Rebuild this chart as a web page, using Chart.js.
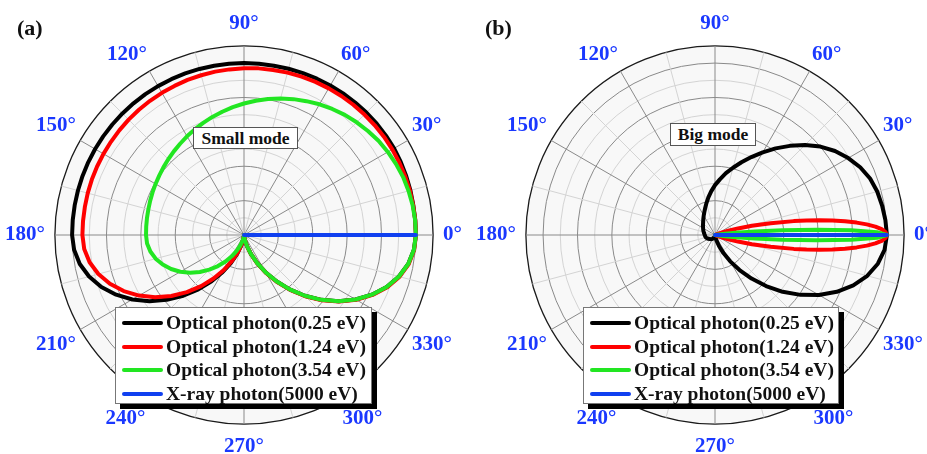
<!DOCTYPE html>
<html>
<head>
<meta charset="utf-8">
<script src="https://cdn.jsdelivr.net/npm/chart.js@4.4.1/dist/chart.umd.min.js"></script>
<style>
html,body{margin:0;padding:0;background:#fff;}
body{width:927px;height:454px;position:relative;overflow:hidden;font-family:'Liberation Serif','Times New Roman',Times,serif;}
canvas.pc{position:absolute;top:0;}
.tag{position:absolute;font-weight:bold;font-size:22px;line-height:22px;color:#111;}
.mode{position:absolute;box-sizing:border-box;border:1px solid #555;background:#fff;font-weight:bold;font-size:17.5px;text-align:center;color:#111;}
.leg{position:absolute;box-sizing:border-box;border:1px solid #777;background:#fff;box-shadow:5px 5px 0 #000;}
.row{position:absolute;left:0;height:24px;width:100%;}
.row .ln{position:absolute;left:6px;top:10px;width:41px;height:4px;border-radius:2px;}
.row .tx{position:absolute;left:50px;top:0;line-height:24px;font-weight:bold;font-size:19.5px;color:#111;white-space:nowrap;}
</style>
</head>
<body>
<canvas id="chartA" class="pc" width="478" height="470" style="left:-5px"></canvas>
<canvas id="chartB" class="pc" width="478" height="470" style="left:466px"></canvas>
<div class="tag" style="left:17px;top:17px">(a)</div>
<div class="tag" style="left:485px;top:17px">(b)</div>
<div class="mode" style="left:193px;top:127px;width:105px;height:22px;line-height:20px">Small mode</div>
<div class="mode" style="left:670px;top:123px;width:86px;height:23px;line-height:21px">Big mode</div>
<div class="leg" id="legA" style="left:115px;top:307px;width:257px;height:97px"></div>
<div class="leg" id="legB" style="left:583px;top:307px;width:256px;height:97px"></div>
<script>
// ---------- tick labels / legend ----------
const angleTicks = [0,30,60,90,120,150,180,210,240,270,300,330];
const seriesNames = ['Optical photon(0.25 eV)','Optical photon(1.24 eV)','Optical photon(3.54 eV)','X-ray photon(5000 eV)'];
const seriesColors = ['#000000','#ff0000','#22e622','#1040f0'];

// ---------- panel (a): Small mode ----------
const thetaA = [0,5,10,15,20,25,30,35,40,45,50,55,60,65,70,75,80,85,90,95,100,105,110,115,120,125,130,135,140,145,150,155,160,165,170,175,180,185,190,195,200,205,210,215,220,225,230,235,240,245,250,255,260,265,270,275,280,285,290,295,300,305,310,315,320,325,330,335,340,345,350,355];
const aBlack = [1.000,1.000,1.000,1.002,1.004,1.006,1.008,1.008,1.008,1.007,1.006,1.005,1.004,1.003,1.002,1.001,1.000,1.000,1.000,1.000,1.000,1.000,1.000,1.000,1.000,1.000,1.000,1.000,1.000,1.000,1.000,1.000,1.000,1.000,1.000,1.000,1.000,
  0.992,0.970,0.933,0.883,0.821,0.750,0.671,0.587,0.500,0.413,0.329,0.250,0.179,0.117,0.067,0.030,0.008,0.000,
  0.008,0.030,0.067,0.117,0.179,0.250,0.329,0.413,0.500,0.587,0.671,0.750,0.821,0.883,0.933,0.970,0.992];
const aRed = [1.000,1.000,0.999,0.999,0.998,0.997,0.996,0.995,0.993,0.991,0.989,0.987,0.985,0.983,0.980,0.978,0.975,0.973,0.970,
  0.967,0.965,0.962,0.960,0.957,0.955,0.953,0.951,0.949,0.947,0.945,0.944,0.943,0.942,0.941,0.940,0.940,0.940,
  0.933,0.912,0.877,0.830,0.772,0.705,0.631,0.552,0.470,0.388,0.309,0.235,0.168,0.110,0.063,0.028,0.007,0.000,
  0.008,0.031,0.068,0.119,0.181,0.253,0.332,0.417,0.504,0.591,0.675,0.754,0.825,0.887,0.937,0.973,0.994];
const aGreen = [1.000,0.999,0.996,0.991,0.985,0.976,0.966,0.955,0.941,0.927,0.912,0.895,0.878,0.859,0.841,0.822,0.803,0.784,0.765,
  0.747,0.728,0.711,0.694,0.678,0.663,0.648,0.635,0.623,0.612,0.602,0.594,0.587,0.581,0.576,0.573,0.571,0.570,
  0.566,0.553,0.532,0.503,0.468,0.428,0.382,0.335,0.285,0.236,0.188,0.143,0.102,0.067,0.038,0.017,0.004,0.000,
  0.008,0.030,0.067,0.117,0.179,0.250,0.329,0.413,0.500,0.587,0.671,0.750,0.821,0.883,0.933,0.970,0.992];
const aBlueTheta = [0,180];
const aBlue = [1.0,0.0];

// ---------- panel (b): Big mode ----------
const thetaB = thetaA;
const bBlack = [1.000,0.995,0.987,0.977,0.960,0.932,0.895,0.852,0.800,0.740,0.677,0.615,0.555,0.500,0.450,0.405,0.365,0.325,0.290,
  0.255,0.222,0.192,0.167,0.147,0.131,0.118,0.107,0.098,0.091,0.085,0.080,0.076,0.072,0.068,0.065,0.062,0.060,
  0.058,0.057,0.055,0.052,0.048,0.044,0.040,0.037,0.034,0.031,0.027,0.023,0.019,0.015,0.011,0.008,0.006,0.005,
  0.005,0.013,0.034,0.068,0.116,0.177,0.249,0.331,0.420,0.514,0.607,0.698,0.782,0.856,0.917,0.962,0.990];
const bRedTheta = [0,1,2,3,4,5,6,7,8,9,10,12,14,16,18,20,25,30,180,330,335,340,342,344,346,348,350,351,352,353,354,355,356,357,358,359];
const bRed = [1.000,0.992,0.970,0.934,0.885,0.827,0.760,0.688,0.613,0.539,0.465,0.331,0.221,0.139,0.081,0.045,0.007,0.000,
  0.000,
  0.000,0.007,0.045,0.081,0.139,0.221,0.331,0.465,0.539,0.613,0.688,0.760,0.827,0.885,0.934,0.970,0.992];
const bGreenTheta = [0,1,2,3,4,5,6,7,8,9,10,12,180,348,350,351,352,353,354,355,356,357,358,359];
const bGreen = [1.000,0.943,0.792,0.592,0.393,0.233,0.122,0.057,0.024,0.009,0.003,0.000,
  0.000,
  0.000,0.003,0.009,0.024,0.057,0.122,0.233,0.393,0.592,0.792,0.943];
const bBlueTheta = [0,180];
const bBlue = [1.0,0.0];

// ---------- build radar tables (1 degree slots, CCW from 0 deg at right) ----------
const N = 360;
const thetaOfIndex = i => (N - i) % N;
const labels = Array.from({length: N}, (_, i) => thetaOfIndex(i));
function toRadar(thetas, vals) {
  const arr = new Array(N).fill(null);
  thetas.forEach((t, k) => { arr[(N - t) % N] = vals[k]; });
  return arr;
}
const FONT = "'Liberation Serif','Times New Roman',Times,serif";

function padFor(t) {
  if (t % 90 === 0) return 10;
  if (t === 240 || t === 300) return 8;
  return 5;
}

function makeChart(id, series) {
  const datasets = series.map((s, k) => ({
    label: seriesNames[k],
    data: toRadar(s[0], s[1]),
    borderColor: seriesColors[k],
    backgroundColor: seriesColors[k],
    borderWidth: 4,
    pointRadius: 0,
    pointHoverRadius: 0,
    fill: false,
    spanGaps: true,
    tension: 0,
    borderJoinStyle: 'round',
    borderCapStyle: 'round',
    order: 4 - k
  }));
  return new Chart(document.getElementById(id), {
    type: 'radar',
    data: { labels, datasets },
    options: {
      responsive: false,
      animation: false,
      events: [],
      layout: { padding: 0 },
      plugins: { legend: { display: false }, tooltip: { enabled: false } },
      scales: {
        r: {
          min: 0, max: 1.1,
          startAngle: 90,
          backgroundColor: '#f8f8f8',
          ticks: { stepSize: 0.1, display: false },
          grid: {
            circular: true,
            color: ctx => { const v = Math.round(ctx.tick.value * 10); if (v >= 11) return '#1a1a1a'; return v % 2 === 0 ? '#8a8a8a' : '#d4d4d4'; },
            lineWidth: ctx => (Math.round(ctx.tick.value * 10) >= 11 ? 1.3 : 1)
          },
          angleLines: {
            display: true,
            color: ctx => { const t = thetaOfIndex(ctx.index); return t % 30 === 0 ? '#8a8a8a' : (t % 15 === 0 ? '#d4d4d4' : 'rgba(0,0,0,0)'); },
            lineWidth: ctx => (thetaOfIndex(ctx.index) % 15 === 0 ? 1 : 0)
          },
          pointLabels: {
            display: true,
            color: '#1a38ff',
            callback: (label) => (angleTicks.includes(label) ? label + '\u00B0' : ''),
            font: ctx => (angleTicks.includes(thetaOfIndex(ctx.index)) ? { family: FONT, size: 21, weight: 'bold' } : { family: FONT, size: 1 }),
            padding: ctx => { const t = thetaOfIndex(ctx.index); return angleTicks.includes(t) ? padFor(t) : 0; }
          }
        }
      }
    }
  });
}

makeChart('chartA', [[thetaA, aBlack], [thetaA, aRed], [thetaA, aGreen], [aBlueTheta, aBlue]]);
makeChart('chartB', [[thetaB, bBlack], [bRedTheta, bRed], [bGreenTheta, bGreen], [bBlueTheta, bBlue]]);

// ---------- HTML legends ----------
function buildLegend(id) {
  const box = document.getElementById(id);
  const rowTops = [3, 26.5, 50, 74];
  seriesNames.forEach((name, k) => {
    const row = document.createElement('div');
    row.className = 'row';
    row.style.top = rowTops[k] + 'px';
    const ln = document.createElement('div');
    ln.className = 'ln';
    ln.style.background = seriesColors[k];
    const tx = document.createElement('div');
    tx.className = 'tx';
    tx.textContent = name;
    row.appendChild(ln); row.appendChild(tx);
    box.appendChild(row);
  });
}
buildLegend('legA');
buildLegend('legB');
</script>
</body>
</html>
